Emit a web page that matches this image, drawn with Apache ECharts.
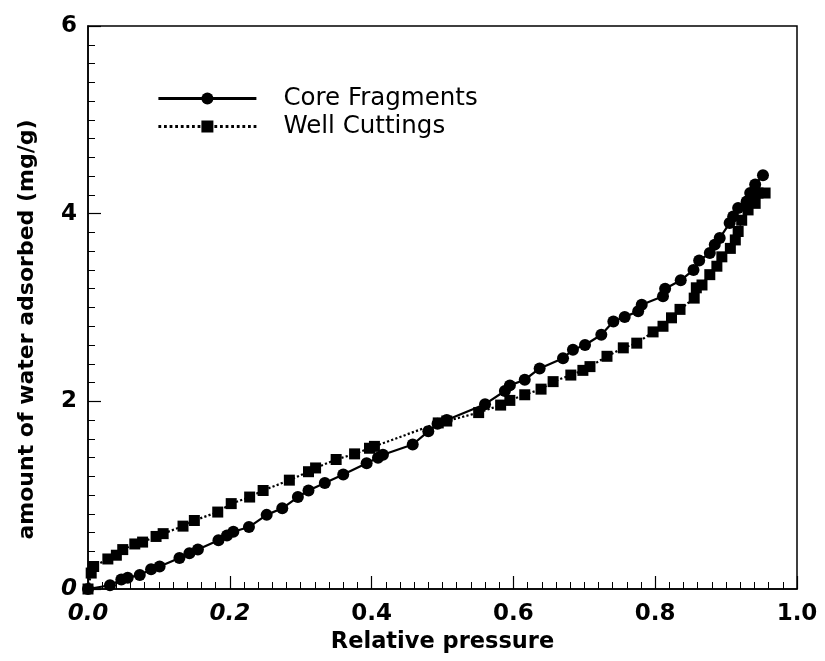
<!DOCTYPE html>
<html>
<head>
<meta charset="utf-8">
<script src="https://cdn.jsdelivr.net/npm/echarts@6/dist/echarts.min.js"></script>
<style>
  html, body { margin: 0; padding: 0; background: #fff; }
  #chart { width: 825px; height: 661px; }
</style>
</head>
<body>
<div id="chart"></div>
<script>
// Water adsorption isotherms: amount adsorbed vs relative pressure
const seriesNames = ['Core Fragments', 'Well Cuttings'];

const coreX = [0, 0.031, 0.047, 0.056, 0.073, 0.089, 0.101, 0.129, 0.143, 0.155, 0.184, 0.196, 0.205,
  0.227, 0.252, 0.274, 0.296, 0.311, 0.334, 0.360, 0.393, 0.409, 0.416, 0.458, 0.480, 0.493, 0.506,
  0.560, 0.588, 0.595, 0.616, 0.637, 0.670, 0.684, 0.701, 0.724, 0.741, 0.757, 0.776, 0.781, 0.811,
  0.814, 0.836, 0.854, 0.862, 0.877, 0.884, 0.891, 0.905, 0.910, 0.917, 0.929, 0.934, 0.941, 0.952];
const coreY = [0, 0.04, 0.10, 0.12, 0.15, 0.21, 0.24, 0.33, 0.38, 0.42, 0.52, 0.57, 0.61,
  0.66, 0.79, 0.86, 0.98, 1.05, 1.13, 1.22, 1.34, 1.40, 1.43, 1.54, 1.68, 1.76, 1.80,
  1.97, 2.11, 2.17, 2.23, 2.35, 2.46, 2.55, 2.60, 2.71, 2.85, 2.90, 2.96, 3.03, 3.12,
  3.20, 3.29, 3.40, 3.50, 3.58, 3.67, 3.74, 3.90, 3.97, 4.06, 4.13, 4.22, 4.31, 4.41];

const wellX = [0, 0.0045, 0.008, 0.028, 0.040, 0.049, 0.066, 0.077, 0.096, 0.106, 0.134, 0.150,
  0.183, 0.202, 0.228, 0.247, 0.284, 0.311, 0.321, 0.350, 0.376, 0.397, 0.404, 0.494, 0.506, 0.551,
  0.582, 0.595, 0.616, 0.639, 0.656, 0.681, 0.698, 0.708, 0.732, 0.755, 0.774, 0.797, 0.811, 0.823,
  0.835, 0.855, 0.858, 0.866, 0.877, 0.887, 0.894, 0.906, 0.913, 0.917, 0.922, 0.931, 0.941, 0.945, 0.955];
const wellY = [0, 0.17, 0.24, 0.32, 0.36, 0.42, 0.48, 0.50, 0.56, 0.59, 0.67, 0.73,
  0.82, 0.91, 0.98, 1.05, 1.16, 1.25, 1.29, 1.38, 1.44, 1.50, 1.52, 1.77, 1.79, 1.88,
  1.96, 2.01, 2.07, 2.13, 2.21, 2.28, 2.33, 2.37, 2.48, 2.57, 2.62, 2.74, 2.80, 2.89,
  2.98, 3.10, 3.21, 3.24, 3.35, 3.44, 3.54, 3.63, 3.72, 3.81, 3.93, 4.04, 4.11, 4.22, 4.22];

const xTicks = ['0.0', '0.2', '0.4', '0.6', '0.8', '1.0'];
const yTicks = ['0', '2', '4', '6'];
const italicXTicks = ['0.0', '0.2'];
const italicYTicks = ['0'];

const zip = (xs, ys) => xs.map((x, i) => [x, ys[i]]);

const FONT = '"DejaVu Sans", "Liberation Sans", Arial, sans-serif';

const chart = echarts.init(document.getElementById('chart'), null, { renderer: 'canvas' });

chart.setOption({
  animation: false,
  backgroundColor: '#fff',
  grid: {
    left: 88, right: 28, top: 26, bottom: 72,
    show: true, borderColor: '#000', borderWidth: 1.5, backgroundColor: 'transparent'
  },
  legend: {
    left: 157, top: 86, padding: 0,
    orient: 'vertical',
    itemWidth: 98, itemHeight: 15, itemGap: 3,
    data: seriesNames,
    lineStyle: { width: 2.8 },
    textStyle: {
      fontFamily: FONT, fontSize: 24.5, color: '#000', lineHeight: 25,
      padding: [0, 0, 0, 22]
    }
  },
  xAxis: {
    type: 'value', min: 0, max: 1, interval: 0.2,
    name: 'Relative pressure', nameLocation: 'middle', nameGap: 38,
    nameTextStyle: { fontFamily: FONT, fontSize: 22.5, fontWeight: 'bold', color: '#000' },
    axisLine: { show: true, lineStyle: { color: '#000', width: 1.5 } },
    axisTick: { show: true, inside: true, length: 13, lineStyle: { color: '#000', width: 1.2 } },
    minorTick: { show: true, splitNumber: 10, length: 7, lineStyle: { color: '#000', width: 1 } },
    splitLine: { show: false },
    axisLabel: {
      margin: 14,
      formatter: v => {
        const t = xTicks[Math.round(v / 0.2)];
        return italicXTicks.includes(t) ? '{i|' + t + '}' : '{n|' + t + '}';
      },
      rich: {
        i: { fontFamily: FONT, fontSize: 23, fontWeight: 'bold', fontStyle: 'italic', color: '#000' },
        n: { fontFamily: FONT, fontSize: 23, fontWeight: 'bold', color: '#000' }
      }
    }
  },
  yAxis: {
    type: 'value', min: 0, max: 6, interval: 2,
    name: 'amount of water adsorbed (mg/g)', nameLocation: 'middle', nameGap: 50, nameRotate: 90,
    nameTextStyle: { fontFamily: FONT, fontSize: 22, fontWeight: 'bold', color: '#000', padding: [0, 44, 0, 0] },
    axisLine: { show: true, lineStyle: { color: '#000', width: 1.5 } },
    axisTick: { show: true, inside: true, length: 13, lineStyle: { color: '#000', width: 1.2 } },
    minorTick: { show: true, splitNumber: 10, length: 7, lineStyle: { color: '#000', width: 1 } },
    splitLine: { show: false },
    axisLabel: {
      margin: 11,
      formatter: v => {
        const t = yTicks[Math.round(v / 2)];
        return italicYTicks.includes(t) ? '{i|' + t + '}' : '{n|' + t + '}';
      },
      rich: {
        i: { fontFamily: FONT, fontSize: 23, fontWeight: 'bold', fontStyle: 'italic', color: '#000' },
        n: { fontFamily: FONT, fontSize: 23, fontWeight: 'bold', color: '#000' }
      }
    }
  },
  series: [
    {
      name: seriesNames[0], type: 'line', data: zip(coreX, coreY),
      symbol: 'circle', symbolSize: 12,
      itemStyle: { color: '#000' },
      lineStyle: { color: '#000', width: 2.2, type: 'solid' }
    },
    {
      name: seriesNames[1], type: 'line', data: zip(wellX, wellY),
      symbol: 'rect', symbolSize: 11,
      itemStyle: { color: '#000' },
      lineStyle: { color: '#000', width: 2.2, type: 'dotted' }
    }
  ]
});
</script>
</body>
</html>
